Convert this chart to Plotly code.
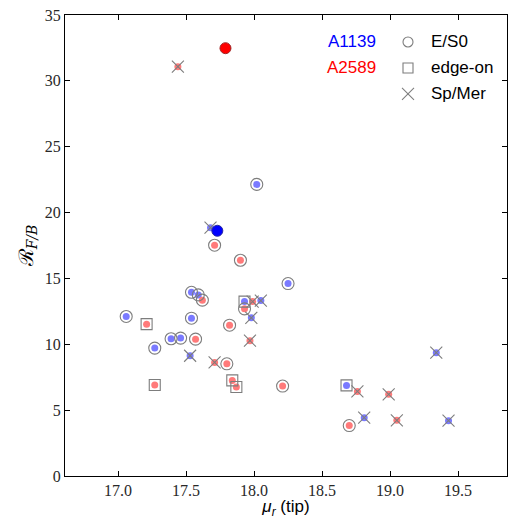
import plotly.graph_objects as go

# ---- data ----
# A1139 (blue)
a1139_es0_x = [18.02, 18.25, 17.54, 17.59, 17.06, 17.54, 17.39, 17.46, 17.27]
a1139_es0_y = [22.14, 14.61, 13.95, 13.75, 12.11, 11.98, 10.42, 10.47, 9.71]
a1139_edge_x = [17.93, 18.68]
a1139_edge_y = [13.24, 6.88]
a1139_sp_x = [17.68, 18.05, 17.98, 17.53, 19.34, 18.81, 19.43]
a1139_sp_y = [18.85, 13.32, 12.01, 9.13, 9.36, 4.43, 4.20]
a1139_big_x = [17.73]
a1139_big_y = [18.62]

# A2589 (red)
a2589_es0_x = [17.71, 17.90, 17.62, 17.93, 17.82, 17.57, 17.80, 18.21, 18.70]
a2589_es0_y = [17.52, 16.38, 13.35, 12.69, 11.45, 10.39, 8.52, 6.83, 3.83]
a2589_edge_x = [17.21, 17.27, 17.84, 17.87]
a2589_edge_y = [11.53, 6.91, 7.26, 6.76]
a2589_sp_x = [17.44, 17.99, 17.97, 17.71, 18.76, 18.99, 19.05]
a2589_sp_y = [31.08, 13.24, 10.27, 8.62, 6.42, 6.20, 4.23]
a2589_big_x = [17.79]
a2589_big_y = [32.48]

x_ticks = [17.0, 17.5, 18.0, 18.5, 19.0, 19.5]
y_ticks = [0, 5, 10, 15, 20, 25, 30, 35]

BLUE_L = "rgb(122,122,255)"
RED_L = "rgb(255,122,122)"
GRAY = "rgb(125,125,125)"

fig = go.Figure()

def dots(x, y, color):
    fig.add_trace(go.Scatter(x=x, y=y, mode="markers", showlegend=False,
                             hoverinfo="skip",
                             marker=dict(color=color, size=7, line=dict(width=0))))

def outline(x, y, symbol, size):
    fig.add_trace(go.Scatter(x=x, y=y, mode="markers", showlegend=False,
                             hoverinfo="skip",
                             marker=dict(symbol=symbol, size=size, color=GRAY,
                                         line=dict(color=GRAY, width=1.1))))

for xs, ys, c in [(a1139_es0_x, a1139_es0_y, BLUE_L), (a1139_edge_x, a1139_edge_y, BLUE_L),
                  (a1139_sp_x, a1139_sp_y, BLUE_L), (a2589_es0_x, a2589_es0_y, RED_L),
                  (a2589_edge_x, a2589_edge_y, RED_L), (a2589_sp_x, a2589_sp_y, RED_L)]:
    dots(xs, ys, c)

outline(a1139_es0_x + a2589_es0_x, a1139_es0_y + a2589_es0_y, "circle-open", 12)
outline(a1139_edge_x + a2589_edge_x, a1139_edge_y + a2589_edge_y, "square-open", 11)
outline(a1139_sp_x + a2589_sp_x, a1139_sp_y + a2589_sp_y, "x-thin-open", 12)

fig.add_trace(go.Scatter(x=a1139_big_x, y=a1139_big_y, mode="markers", showlegend=False,
                         hoverinfo="skip",
                         marker=dict(color="rgb(0,0,255)", size=11,
                                     line=dict(color="rgb(40,40,160)", width=1))))
fig.add_trace(go.Scatter(x=a2589_big_x, y=a2589_big_y, mode="markers", showlegend=False,
                         hoverinfo="skip",
                         marker=dict(color="rgb(255,0,0)", size=11,
                                     line=dict(color="rgb(160,40,40)", width=1))))

# ---- legend (layout elements) ----
L, R, T, B = 65, 507, 15, 476.5
def px_x(p):
    return (p - L) / (R - L)
def px_y(p):
    return (B - p) / (B - T)

ann = []
for txt, col, py in [("A1139", "rgb(0,0,255)", 42), ("A2589", "rgb(255,0,0)", 68)]:
    ann.append(dict(x=px_x(378), y=px_y(py), xref="paper", yref="paper", text=txt,
                    showarrow=False, xanchor="right", yanchor="middle",
                    font=dict(family="Liberation Sans, Arial, sans-serif", size=17, color=col)))
for txt, py in [("E/S0", 42), ("edge-on", 68), ("Sp/Mer", 94)]:
    ann.append(dict(x=px_x(429), y=px_y(py), xref="paper", yref="paper", text=txt,
                    showarrow=False, xanchor="left", yanchor="middle",
                    font=dict(family="Liberation Sans, Arial, sans-serif", size=17, color="black")))

shapes = []
cx = px_x(408)
shapes.append(dict(type="circle", xref="paper", yref="paper", xsizemode="pixel", ysizemode="pixel",
                   xanchor=cx, yanchor=px_y(42), x0=-5, x1=5, y0=-5, y1=5,
                   line=dict(color=GRAY, width=1.1)))
shapes.append(dict(type="rect", xref="paper", yref="paper", xsizemode="pixel", ysizemode="pixel",
                   xanchor=cx, yanchor=px_y(68), x0=-5, x1=5, y0=-5, y1=5,
                   line=dict(color=GRAY, width=1.1)))
for (a, b) in [((-6, -6), (6, 6)), ((-6, 6), (6, -6))]:
    shapes.append(dict(type="line", xref="paper", yref="paper", xsizemode="pixel", ysizemode="pixel",
                       xanchor=cx, yanchor=px_y(94), x0=a[0], y0=a[1], x1=b[0], y1=b[1],
                       line=dict(color=GRAY, width=1.1)))

axis_common = dict(showline=True, linecolor="black", linewidth=1, mirror="ticks",
                   ticks="inside", ticklen=5, tickcolor="black", showgrid=False, zeroline=False,
                   tickfont=dict(family="Liberation Serif, serif", size=16, color="rgb(40,40,40)"))

fig.update_layout(
    width=508, height=519,
    margin=dict(l=L, r=508 - R, t=T, b=519 - B),
    paper_bgcolor="white", plot_bgcolor="white",
    xaxis=dict(range=[16.61, 19.86], tickvals=x_ticks, ticktext=[f"{v:.1f}" for v in x_ticks],
               title=dict(text="<i>μ</i><sub><i>r</i></sub> (tip)", standoff=4,
                          font=dict(family="Liberation Sans, Arial, sans-serif", size=17, color="black")),
               **axis_common),
    yaxis=dict(range=[0, 35], tickvals=y_ticks, ticktext=[str(v) for v in y_ticks],
               title=dict(text="ℛ<sub><i>F/B</i></sub>", standoff=5,
                          font=dict(family="DejaVu Serif, serif", size=20, color="black")),
               **axis_common),
    annotations=ann, shapes=shapes,
)

fig.write_html("out.html")
